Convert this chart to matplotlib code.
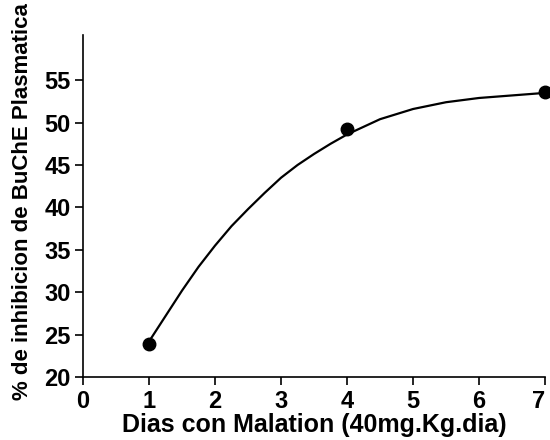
import matplotlib
matplotlib.use("Agg")
import matplotlib.pyplot as plt

# measured points
dias = [1, 4, 7]
inhibicion = [23.9, 49.2, 53.6]

# fitted curve
curva_x = [1.0, 1.25, 1.5, 1.75, 2.0, 2.25, 2.5, 2.75, 3.0, 3.25, 3.5, 3.75, 4.0,
           4.5, 5.0, 5.5, 6.0, 6.5, 7.0]
curva_y = [24.2, 27.2, 30.2, 33.0, 35.5, 37.8, 39.8, 41.7, 43.5, 45.0, 46.3, 47.5, 48.6,
           50.4, 51.6, 52.4, 52.9, 53.2, 53.5]

xticks = [0, 1, 2, 3, 4, 5, 6, 7]
yticks = [20, 25, 30, 35, 40, 45, 50, 55]

plt.rcParams['font.family'] = ['Liberation Sans', 'DejaVu Sans']
plt.rcParams['font.weight'] = 'bold'

fig = plt.figure(figsize=(5.5, 4.4), dpi=100)
ax = fig.add_axes([0.151, 0.143, 0.840, 0.777])

ax.plot(curva_x, curva_y, color='black', linewidth=1.6, clip_on=False)
ax.plot(dias, inhibicion, 'o', color='black', markersize=9, clip_on=False)

ax.set_xlim(0, 7)
ax.set_ylim(20, 60.3)
ax.set_xticks(xticks)
ax.set_yticks(yticks)
ax.tick_params(labelsize=17, width=1.2, length=6, direction='out', pad=3)
for lab in ax.get_xticklabels() + ax.get_yticklabels():
    lab.set_fontweight('bold')
ax.get_xticklabels()[-1].set_horizontalalignment('right')

ax.spines['top'].set_visible(False)
ax.spines['right'].set_visible(False)
ax.spines['left'].set_linewidth(1.2)
ax.spines['bottom'].set_linewidth(1.2)

ax.set_xlabel('Dias con Malation (40mg.Kg.dia)', fontsize=18, fontweight='bold', labelpad=0)
ax.set_ylabel('% de inhibicion de BuChE Plasmatica', fontsize=16, fontweight='bold')
ax.yaxis.set_label_coords(-0.108, 0.513)

fig.savefig('out.png', dpi=100)
